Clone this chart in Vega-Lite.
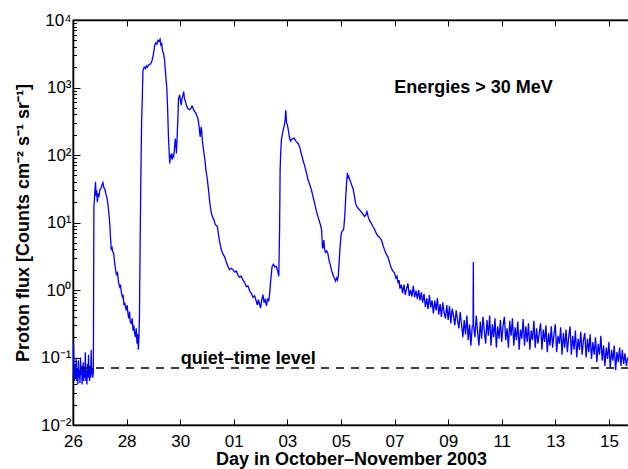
{
  "$schema": "https://vega.github.io/schema/vega-lite/v6.json",
  "width": 556,
  "height": 405,
  "autosize": "none",
  "padding": {"left": 73, "top": 20, "right": 0, "bottom": 44},
  "background": "white",
  "config": {
    "view": {"stroke": "black", "strokeWidth": 1.3},
    "axis": {
      "labelFont": "Liberation Sans", "labelFontSize": 17, "labelColor": "black",
      "titleFont": "Liberation Sans", "titleFontSize": 18, "titleFontWeight": "bold", "titleColor": "black",
      "domain": true, "domainColor": "black", "domainOpacity": 1, "domainWidth": 1.3, "tickColor": "black", "tickWidth": 1, "grid": false,
      "labelFlush": false, "labelOverlap": false
    }
  },
  "layer": [
    {
      "data": {"values": [
        {"d":26.00,"f":0.055},{"d":26.02,"f":0.16},{"d":26.04,"f":0.06},{"d":26.06,"f":0.045},{"d":26.08,"f":0.08},{"d":26.10,"f":0.05},{"d":26.12,"f":0.10},{"d":26.14,"f":0.045},{"d":26.16,"f":0.07},{"d":26.18,"f":0.04},{"d":26.20,"f":0.09},{"d":26.22,"f":0.05},{"d":26.24,"f":0.065},{"d":26.26,"f":0.042},{"d":26.28,"f":0.10},{"d":26.30,"f":0.055},{"d":26.32,"f":0.075},{"d":26.34,"f":0.04},{"d":26.36,"f":0.06},{"d":26.38,"f":0.085},{"d":26.40,"f":0.045},{"d":26.42,"f":0.07},{"d":26.44,"f":0.05},{"d":26.46,"f":0.12},{"d":26.48,"f":0.045},{"d":26.50,"f":0.065},{"d":26.52,"f":0.04},{"d":26.54,"f":0.08},{"d":26.56,"f":0.05},{"d":26.58,"f":0.11},{"d":26.60,"f":0.06},{"d":26.62,"f":0.045},{"d":26.64,"f":0.075},{"d":26.66,"f":0.05},{"d":26.68,"f":0.13},{"d":26.70,"f":0.055},{"d":26.72,"f":0.07},{"d":26.74,"f":0.05},{"d":26.76,"f":0.065},
        {"d":26.78,"f":17},{"d":26.80,"f":22},{"d":26.84,"f":40},{"d":26.86,"f":25},{"d":26.88,"f":30},{"d":26.91,"f":20},{"d":26.94,"f":27},{"d":26.97,"f":24},{"d":27.00,"f":30},{"d":27.04,"f":32},{"d":27.08,"f":36},{"d":27.12,"f":39},{"d":27.15,"f":33},{"d":27.19,"f":31},{"d":27.22,"f":27},{"d":27.26,"f":24},{"d":27.30,"f":19},{"d":27.33,"f":15},{"d":27.36,"f":11},{"d":27.38,"f":8.5},{"d":27.40,"f":6.0},{"d":27.43,"f":3.9},{"d":27.46,"f":4.2},{"d":27.49,"f":3.6},{"d":27.52,"f":3.5},{"d":27.55,"f":2.6},{"d":27.59,"f":2.0},{"d":27.62,"f":1.7},{"d":27.66,"f":1.8},{"d":27.70,"f":1.3},{"d":27.74,"f":1.12},{"d":27.77,"f":1.2},{"d":27.81,"f":0.9},{"d":27.84,"f":0.8},{"d":27.87,"f":0.85},{"d":27.90,"f":0.6},{"d":27.93,"f":0.65},{"d":27.96,"f":0.55},{"d":27.99,"f":0.5},{"d":28.02,"f":0.6},{"d":28.05,"f":0.45},{"d":28.08,"f":0.38},{"d":28.11,"f":0.48},{"d":28.14,"f":0.33},{"d":28.18,"f":0.32},{"d":28.21,"f":0.38},{"d":28.24,"f":0.25},{"d":28.27,"f":0.3},{"d":28.30,"f":0.23},{"d":28.33,"f":0.2},{"d":28.36,"f":0.27},{"d":28.39,"f":0.16},{"d":28.42,"f":0.22},{"d":28.44,"f":0.13},{"d":28.46,"f":0.2},
        {"d":28.48,"f":0.4},{"d":28.50,"f":3},{"d":28.53,"f":40},{"d":28.56,"f":300},{"d":28.59,"f":800},{"d":28.61,"f":1800},{"d":28.63,"f":1900},{"d":28.66,"f":2000},{"d":28.70,"f":1900},{"d":28.74,"f":2100},{"d":28.78,"f":2000},{"d":28.82,"f":2150},{"d":28.86,"f":2200},{"d":28.90,"f":2250},{"d":28.95,"f":2500},{"d":29.00,"f":3100},{"d":29.05,"f":4200},{"d":29.09,"f":4600},{"d":29.13,"f":4400},{"d":29.17,"f":5000},{"d":29.21,"f":4800},{"d":29.25,"f":5200},{"d":29.28,"f":4300},{"d":29.31,"f":4600},{"d":29.34,"f":3500},{"d":29.38,"f":3200},{"d":29.42,"f":2500},{"d":29.46,"f":1500},{"d":29.50,"f":1000},{"d":29.53,"f":500},{"d":29.56,"f":200},{"d":29.58,"f":130},{"d":29.61,"f":75},{"d":29.63,"f":100},{"d":29.65,"f":90},{"d":29.67,"f":105},{"d":29.70,"f":85},{"d":29.73,"f":100},{"d":29.76,"f":95},{"d":29.79,"f":130},{"d":29.82,"f":175},{"d":29.84,"f":140},{"d":29.86,"f":105},{"d":29.89,"f":200},{"d":29.92,"f":400},{"d":29.94,"f":700},{"d":29.96,"f":720},{"d":29.98,"f":780},{"d":30.01,"f":650},{"d":30.04,"f":550},{"d":30.07,"f":700},{"d":30.10,"f":750},{"d":30.13,"f":870},{"d":30.16,"f":680},{"d":30.20,"f":620},{"d":30.23,"f":550},{"d":30.27,"f":500},{"d":30.31,"f":480},{"d":30.35,"f":470},{"d":30.40,"f":490},{"d":30.44,"f":530},{"d":30.46,"f":520},{"d":30.50,"f":470},{"d":30.54,"f":440},{"d":30.58,"f":420},{"d":30.62,"f":380},{"d":30.66,"f":350},{"d":30.70,"f":280},{"d":30.73,"f":210},{"d":30.75,"f":185},{"d":30.78,"f":260},{"d":30.80,"f":240},{"d":30.83,"f":160},{"d":30.86,"f":130},{"d":30.89,"f":105},{"d":30.93,"f":80},{"d":30.96,"f":60},{"d":31.00,"f":48},{"d":31.04,"f":35},{"d":31.07,"f":27},{"d":31.11,"f":19},{"d":31.16,"f":14},{"d":31.21,"f":12},{"d":31.26,"f":11},{"d":31.30,"f":9.5},{"d":31.35,"f":9.0},{"d":31.39,"f":8.7},{"d":31.42,"f":7.0},{"d":31.44,"f":6.2},{"d":31.48,"f":5.0},{"d":31.54,"f":3.9},{"d":31.60,"f":3.4},{"d":31.66,"f":3.1},{"d":31.72,"f":2.6},{"d":31.78,"f":2.25},{"d":31.84,"f":2.0},{"d":31.90,"f":2.1},{"d":31.97,"f":2.0},{"d":32.03,"f":1.85},{"d":32.10,"f":1.9},{"d":32.16,"f":1.65},{"d":32.22,"f":1.55},{"d":32.28,"f":1.6},{"d":32.34,"f":1.41},{"d":32.40,"f":1.3},{"d":32.47,"f":1.12},{"d":32.53,"f":1.15},{"d":32.60,"f":0.95},{"d":32.66,"f":0.89},{"d":32.72,"f":0.78},{"d":32.78,"f":0.82},{"d":32.84,"f":0.68},{"d":32.88,"f":0.6},{"d":32.92,"f":0.72},{"d":32.96,"f":0.62},{"d":33.00,"f":0.54},{"d":33.04,"f":0.7},{"d":33.09,"f":0.85},{"d":33.13,"f":0.65},{"d":33.17,"f":0.72},{"d":33.22,"f":0.58},{"d":33.26,"f":0.75},{"d":33.30,"f":0.68},{"d":33.34,"f":0.9},{"d":33.38,"f":1.4},{"d":33.43,"f":2.24},{"d":33.48,"f":2.4},{"d":33.53,"f":2.2},{"d":33.59,"f":2.24},{"d":33.64,"f":1.9},{"d":33.68,"f":1.6},
        {"d":33.71,"f":8},{"d":33.73,"f":60},{"d":33.75,"f":105},{"d":33.78,"f":170},{"d":33.82,"f":210},{"d":33.86,"f":250},{"d":33.89,"f":280},{"d":33.92,"f":340},{"d":33.94,"f":460},{"d":33.97,"f":300},{"d":34.00,"f":280},{"d":34.04,"f":230},{"d":34.08,"f":180},{"d":34.12,"f":160},{"d":34.16,"f":170},{"d":34.20,"f":175},{"d":34.25,"f":178},{"d":34.30,"f":165},{"d":34.35,"f":155},{"d":34.40,"f":148},{"d":34.45,"f":135},{"d":34.52,"f":105},{"d":34.58,"f":85},{"d":34.65,"f":68},{"d":34.71,"f":55},{"d":34.77,"f":43},{"d":34.84,"f":36},{"d":34.90,"f":30},{"d":34.96,"f":24},{"d":35.02,"f":19},{"d":35.08,"f":15},{"d":35.14,"f":12.3},{"d":35.19,"f":10.5},{"d":35.24,"f":9.1},{"d":35.28,"f":7.5},{"d":35.31,"f":4.2},{"d":35.33,"f":4.2},{"d":35.36,"f":5.5},{"d":35.39,"f":4.0},{"d":35.42,"f":3.6},{"d":35.47,"f":3.8},{"d":35.51,"f":3.5},{"d":35.56,"f":2.7},{"d":35.60,"f":2.4},{"d":35.64,"f":2.0},{"d":35.68,"f":1.8},{"d":35.72,"f":1.6},{"d":35.76,"f":1.48},{"d":35.80,"f":1.35},{"d":35.84,"f":1.5},{"d":35.87,"f":1.41},{"d":35.90,"f":1.6},{"d":35.93,"f":2.5},{"d":35.97,"f":4.5},{"d":36.01,"f":6.9},{"d":36.05,"f":7.5},{"d":36.10,"f":7.8},{"d":36.14,"f":12},{"d":36.18,"f":24},{"d":36.21,"f":38},{"d":36.24,"f":54},{"d":36.26,"f":45},{"d":36.28,"f":50},{"d":36.32,"f":44},{"d":36.36,"f":40},{"d":36.40,"f":36},{"d":36.45,"f":32},{"d":36.50,"f":25},{"d":36.55,"f":19},{"d":36.60,"f":17},{"d":36.66,"f":16},{"d":36.72,"f":15},{"d":36.78,"f":14},{"d":36.84,"f":13},{"d":36.88,"f":12.3},{"d":36.93,"f":13},{"d":36.97,"f":14.5},{"d":37.02,"f":12},{"d":37.08,"f":10.5},{"d":37.13,"f":9.8},{"d":37.19,"f":8.8},{"d":37.25,"f":8},{"d":37.32,"f":6.9},{"d":37.38,"f":6.3},{"d":37.44,"f":6.0},{"d":37.51,"f":5.5},{"d":37.57,"f":4.6},{"d":37.63,"f":3.9},{"d":37.69,"f":3.4},{"d":37.75,"f":3.1},{"d":37.82,"f":2.5},{"d":37.88,"f":2.1},{"d":37.94,"f":1.9},{"d":38.00,"f":1.78},{"d":38.05,"f":1.5},{"d":38.09,"f":1.6},{"d":38.13,"f":1.26},{"d":38.17,"f":1.4},{"d":38.20,"f":1.05},
        {"d":38.25,"f":1.2},{"d":38.30,"f":0.9},{"d":38.35,"f":1.2},{"d":38.40,"f":0.85},{"d":38.45,"f":1.05},{"d":38.50,"f":1.25},{"d":38.55,"f":0.82},{"d":38.60,"f":1.0},{"d":38.65,"f":0.8},{"d":38.70,"f":1.15},{"d":38.75,"f":0.78},{"d":38.80,"f":0.98},{"d":38.85,"f":0.74},{"d":38.90,"f":1.0},{"d":38.95,"f":0.7},{"d":39.00,"f":0.92},{"d":39.05,"f":0.65},{"d":39.10,"f":0.88},{"d":39.15,"f":0.56},{"d":39.20,"f":0.75},{"d":39.25,"f":0.52},{"d":39.30,"f":0.84},{"d":39.35,"f":0.55},{"d":39.40,"f":0.7},{"d":39.45,"f":0.45},{"d":39.50,"f":0.7},{"d":39.55,"f":0.5},{"d":39.60,"f":0.76},{"d":39.65,"f":0.43},{"d":39.70,"f":0.62},{"d":39.75,"f":0.4},{"d":39.80,"f":0.65},{"d":39.85,"f":0.46},{"d":39.90,"f":0.38},{"d":39.95,"f":0.6},{"d":40.00,"f":0.36},{"d":40.05,"f":0.58},{"d":40.10,"f":0.32},{"d":40.15,"f":0.53},{"d":40.20,"f":0.42},{"d":40.25,"f":0.3},{"d":40.30,"f":0.5},{"d":40.35,"f":0.36},{"d":40.40,"f":0.27},{"d":40.45,"f":0.47},{"d":40.50,"f":0.31},{"d":40.55,"f":0.2},{"d":40.60,"f":0.36},{"d":40.65,"f":0.22},{"d":40.70,"f":0.42},{"d":40.75,"f":0.18},{"d":40.80,"f":0.31},{"d":40.85,"f":0.15},{"d":40.90,"f":0.29},{"d":40.93,"f":0.3},{"d":40.94,"f":2.6},{"d":40.95,"f":0.3},{"d":41.00,"f":0.2},{"d":41.05,"f":0.42},{"d":41.10,"f":0.24},{"d":41.15,"f":0.15},{"d":41.20,"f":0.34},{"d":41.25,"f":0.19},{"d":41.30,"f":0.4},{"d":41.35,"f":0.25},{"d":41.40,"f":0.16},{"d":41.45,"f":0.36},{"d":41.50,"f":0.21},{"d":41.55,"f":0.42},{"d":41.60,"f":0.15},{"d":41.65,"f":0.31},{"d":41.70,"f":0.2},{"d":41.75,"f":0.38},{"d":41.80,"f":0.14},{"d":41.85,"f":0.29},{"d":41.90,"f":0.19},{"d":41.95,"f":0.36},{"d":42.00,"f":0.17},{"d":42.05,"f":0.3},{"d":42.10,"f":0.4},{"d":42.15,"f":0.18},{"d":42.20,"f":0.27},{"d":42.25,"f":0.14},{"d":42.30,"f":0.35},{"d":42.35,"f":0.21},{"d":42.40,"f":0.38},{"d":42.45,"f":0.15},{"d":42.50,"f":0.28},{"d":42.55,"f":0.18},{"d":42.60,"f":0.34},{"d":42.65,"f":0.13},{"d":42.70,"f":0.26},{"d":42.75,"f":0.19},{"d":42.80,"f":0.37},{"d":42.85,"f":0.15},{"d":42.90,"f":0.29},{"d":42.95,"f":0.17},{"d":43.00,"f":0.32},{"d":43.05,"f":0.13},{"d":43.10,"f":0.25},{"d":43.15,"f":0.18},{"d":43.20,"f":0.35},{"d":43.25,"f":0.14},{"d":43.30,"f":0.27},{"d":43.35,"f":0.16},{"d":43.40,"f":0.23},{"d":43.45,"f":0.32},{"d":43.50,"f":0.13},{"d":43.55,"f":0.26},{"d":43.60,"f":0.17},{"d":43.65,"f":0.3},{"d":43.70,"f":0.12},{"d":43.75,"f":0.23},{"d":43.80,"f":0.15},{"d":43.85,"f":0.29},{"d":43.90,"f":0.14},{"d":43.95,"f":0.22},{"d":44.00,"f":0.31},{"d":44.05,"f":0.12},{"d":44.10,"f":0.21},{"d":44.15,"f":0.16},{"d":44.20,"f":0.28},{"d":44.25,"f":0.11},{"d":44.30,"f":0.23},{"d":44.35,"f":0.14},{"d":44.40,"f":0.26},{"d":44.45,"f":0.12},{"d":44.50,"f":0.2},{"d":44.55,"f":0.29},{"d":44.60,"f":0.11},{"d":44.65,"f":0.21},{"d":44.70,"f":0.13},{"d":44.75,"f":0.25},{"d":44.80,"f":0.1},{"d":44.85,"f":0.19},{"d":44.90,"f":0.13},{"d":44.95,"f":0.24},{"d":45.00,"f":0.11},{"d":45.05,"f":0.18},{"d":45.10,"f":0.23},{"d":45.15,"f":0.1},{"d":45.20,"f":0.19},{"d":45.25,"f":0.12},{"d":45.30,"f":0.22},{"d":45.35,"f":0.095},{"d":45.40,"f":0.17},{"d":45.45,"f":0.11},{"d":45.50,"f":0.2},{"d":45.55,"f":0.085},{"d":45.60,"f":0.16},{"d":45.65,"f":0.11},{"d":45.70,"f":0.21},{"d":45.75,"f":0.09},{"d":45.80,"f":0.15},{"d":45.85,"f":0.075},{"d":45.90,"f":0.14},{"d":45.95,"f":0.095},{"d":46.00,"f":0.17},{"d":46.05,"f":0.07},{"d":46.10,"f":0.13},{"d":46.15,"f":0.09},{"d":46.20,"f":0.15},{"d":46.25,"f":0.065},{"d":46.30,"f":0.12},{"d":46.35,"f":0.085},{"d":46.40,"f":0.14},{"d":46.45,"f":0.075},{"d":46.50,"f":0.13},{"d":46.55,"f":0.08},{"d":46.60,"f":0.115},{"d":46.65,"f":0.075},{"d":46.70,"f":0.1}
      ]},
      "mark": {"type": "line", "color": "#0000ff", "strokeWidth": 1.3, "clip": true},
      "encoding": {
        "x": {
          "field": "d", "type": "quantitative",
          "scale": {"domain": [26, 46.75], "nice": false, "zero": false},
          "axis": {
            "orient": "bottom",
            "values": [26, 28, 30, 32, 34, 36, 38, 40, 42, 44, 46],
            "labelExpr": "datum.value > 31 ? (datum.value - 31 < 10 ? '0' + (datum.value - 31) : '' + (datum.value - 31)) : '' + datum.value",
            "tickSize": -6,
            "labelPadding": 14,
            "title": "Day in October–November 2003",
            "titleY": 39,
            "titleBaseline": "alphabetic"
          }
        },
        "y": {
          "field": "f", "type": "quantitative",
          "scale": {"type": "log", "domain": [0.01, 10000], "nice": false},
          "axis": {
            "orient": "left",
            "values": [0.01, 0.1, 1, 10, 100, 1000, 10000],
            "labelExpr": "datum.value >= 5000 ? '10⁴' : datum.value >= 500 ? '10³' : datum.value >= 50 ? '10²' : datum.value >= 5 ? '10¹' : datum.value >= 0.5 ? '10⁰' : datum.value >= 0.05 ? '10⁻¹' : '10⁻²'",
            "tickSize": -7,
            "labelPadding": 9,
            "title": "Proton flux [Counts cm⁻² s⁻¹ sr⁻¹]",
            "titleAngle": 270,
            "titleX": -45,
            "titleY": 202.5,
            "titleBaseline": "alphabetic",
            "titleAlign": "center"
          }
        }
      }
    },
    {
      "data": {"values": [{"q": 0.07}]},
      "mark": {"type": "rule", "color": "black", "strokeWidth": 1.4, "strokeDash": [8, 7]},
      "encoding": {"y": {"field": "q", "type": "quantitative", "axis": null}}
    },
    {
      "data": {"values": [{"d": 40.95, "f": 1000, "t": "Energies > 30 MeV"}]},
      "mark": {"type": "text", "font": "Liberation Sans", "fontSize": 18, "fontWeight": "bold", "color": "black", "align": "center", "baseline": "middle"},
      "encoding": {
        "x": {"field": "d", "type": "quantitative", "axis": null},
        "y": {"field": "f", "type": "quantitative", "axis": null},
        "text": {"field": "t"}
      }
    },
    {
      "data": {"values": [{"d": 32.54, "f": 0.081, "t": "quiet–time level"}]},
      "mark": {"type": "text", "font": "Liberation Sans", "fontSize": 18, "fontWeight": "bold", "color": "black", "align": "center", "baseline": "alphabetic"},
      "encoding": {
        "x": {"field": "d", "type": "quantitative", "axis": null},
        "y": {"field": "f", "type": "quantitative", "axis": null},
        "text": {"field": "t"}
      }
    },
    {
      "data": {"values": [{"d": 30, "f": 1}]},
      "mark": {"type": "point", "opacity": 0},
      "encoding": {
        "x": {"field": "d", "type": "quantitative", "axis": {"orient": "top", "values": [26, 28, 30, 32, 34, 36, 38, 40, 42, 44, 46], "labels": false, "domain": true, "tickSize": -6, "title": null}},
        "y": {"field": "f", "type": "quantitative", "axis": {"orient": "left", "values": [0.02,0.03,0.04,0.05,0.06,0.07,0.08,0.09,0.2,0.3,0.4,0.5,0.6,0.7,0.8,0.9,2,3,4,5,6,7,8,9,20,30,40,50,60,70,80,90,200,300,400,500,600,700,800,900,2000,3000,4000,5000,6000,7000,8000,9000], "labels": false, "domain": true, "tickSize": -3.5, "title": null}}
      }
    }
  ],
  "resolve": {"axis": {"x": "independent", "y": "independent"}}
}
